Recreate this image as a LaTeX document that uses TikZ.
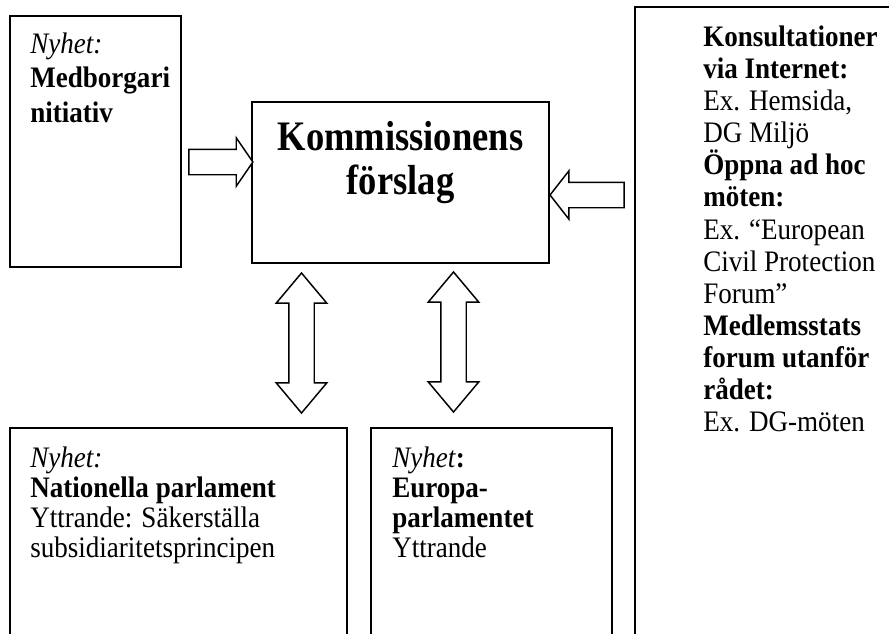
\documentclass[tikz,border=0pt]{standalone}
\usepackage{fontspec}
\setmainfont{Liberation Serif}[FakeStretch=0.91]
\newfontfamily\titlefont{Liberation Serif}[FakeStretch=0.87]
\usetikzlibrary{shapes.arrows,fit,calc}

% one picture unit = one pixel of the 889 x 633 page, y pointing down
\tikzset{
  frame/.style={draw=black, line width=1.2pt, inner sep=0pt},
  bodytext/.style={anchor=north west, inner sep=0pt, align=left,
    font=\fontsize{22.3}{#1}\selectfont},
  bodytext/.default=24.1pt,
  titletext/.style={anchor=north, inner sep=0pt, align=center,
    font=\titlefont\fontsize{31.5}{33.5}\selectfont\bfseries},
  flatarrow/.style={single arrow, draw=black, line width=1.1pt, fill=white,
    inner xsep=0pt, inner ysep=9pt, single arrow head extend=8.6pt},
  twowayarrow/.style={double arrow, draw=black, line width=1.1pt, fill=white,
    inner xsep=0pt, inner ysep=9pt, double arrow head extend=9.4pt,
    double arrow tip angle=80, minimum height=105pt, rotate=90},
}
% fixed ascent of the first line, so a node's top sits 28 units above its first baseline
\newcommand{\firstline}{\rule{0pt}{21pt}}

\begin{document}
\begin{tikzpicture}[x=0.75pt, y=-0.75pt]
  \useasboundingbox (0,0) rectangle (889,633);

  % boxes (the open ones run past the page edge)
  \node[frame, fit={(10,16) (181,267)}]   (initiative) {};
  \node[frame, fit={(252,102) (549,263)}] (proposal)   {};
  \node[frame, fit={(635,7) (960,700)}]   (consult)    {};
  \node[frame, fit={(10,428) (347,700)}]  (national)   {};
  \node[frame, fit={(371,428) (612,700)}] (europarl)   {};

  % texts
  \node[bodytext=26pt] (initiativetext) at (30,25) {\firstline\textit{Nyhet:}\\
    \textbf{Medborgari}\\
    \textbf{nitiativ}};

  \node[titletext] (proposaltext) at (400.5,111.3)
    {\rule{0pt}{29pt}Kommissionens\\förslag};

  \node[bodytext] (consulttext) at (703,18) {\firstline\textbf{Konsultationer}\\
    \textbf{via Internet:}\\
    Ex. Hemsida,\\
    DG Miljö\\
    \textbf{Öppna ad hoc}\\
    \textbf{möten:}\\
    Ex. “European\\
    Civil Protection\\
    Forum”\\
    \textbf{Medlemsstats}\\
    \textbf{forum utanför}\\
    \textbf{rådet:}\\
    Ex. DG-möten};

  \node[bodytext=22.5pt] (nationaltext) at (30,439) {\firstline\textit{Nyhet:}\\
    \textbf{Nationella parlament}\\
    Yttrande: Säkerställa\\
    subsidiaritetsprincipen};

  \node[bodytext=22.5pt] (europarltext) at (392,439) {\firstline\textit{Nyhet}\textbf{:}\\
    \textbf{Europa-}\\
    \textbf{parlamentet}\\
    Yttrande};

  % block arrows between the boxes
  \node[flatarrow, minimum height=48pt, single arrow tip angle=111]
    (fromleft) at ($(initiative.east)!0.5!(proposal.west)$ |- 0,190) {};
  \node[flatarrow, minimum height=55.5pt, single arrow tip angle=104, rotate=180]
    (fromright) at (592,195) {};
  \node[twowayarrow] (tonational) at (301.5,343) {};
  \node[twowayarrow] (toeuroparl) at (453.5,342) {};
\end{tikzpicture}
\end{document}
